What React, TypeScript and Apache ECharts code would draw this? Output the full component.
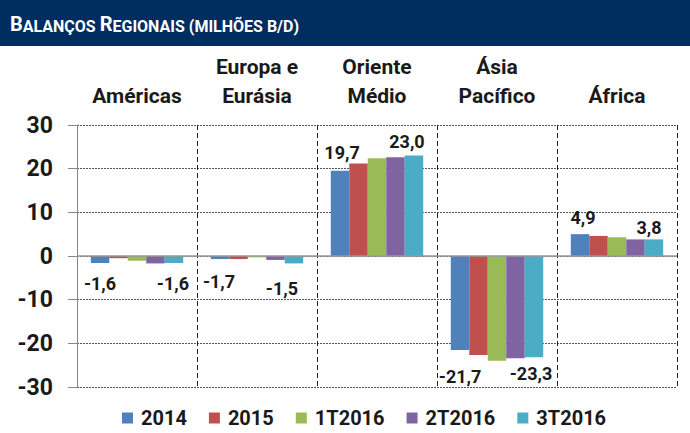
import { useEffect, useRef } from "react";
import * as echarts from "echarts";

const categories = ["Américas", "Europa e\nEurásia", "Oriente\nMédio", "Ásia\nPacífico", "África"];
const seriesNames = ["2014", "2015", "1T2016", "2T2016", "3T2016"];
const values2014 = [-1.6, -0.7, 19.5, -21.5, 5.0];
const values2015 = [-0.5, -0.7, 21.2, -22.7, 4.6];
const values1T2016 = [-1.1, -0.3, 22.4, -24.0, 4.3];
const values2T2016 = [-1.7, -0.9, 22.6, -23.4, 3.8];
const values3T2016 = [-1.6, -1.7, 23.0, -23.2, 3.8];
const labels2014 = ["-1,6", "-1,7", "19,7", "-21,7", "4,9"];
const labels3T2016 = ["-1,6", "-1,5", "23,0", "-23,3", "3,8"];
const yMin = -30;
const yMax = 30;
const yInterval = 10;
const titleText = "{b|B}{s|ALANÇOS }{b|R}{s|EGIONAIS (MILHÕES B/D)}";

const colors = ["#4F81BD", "#C0504D", "#9BBB59", "#8064A2", "#4BACC6"];
const FONT = "Roboto, 'Liberation Sans', sans-serif";

// label placement styling (distance from bar end, horizontal shift)
const firstPlacement = [
  { d: 12, dx: 0 },
  { d: 13, dx: -1 },
  { d: 9, dx: 2 },
  { d: 18, dx: 0 },
  { d: 8, dx: 3 },
];
const lastPlacement = [
  { d: 12, dx: -1 },
  { d: 16, dx: -12 },
  { d: 5, dx: -7 },
  { d: 7, dx: -3 },
  { d: 3, dx: -5 },
];

function buildData(values: number[], labels: string[] | null, placement: { d: number; dx: number }[] | null) {
  return values.map((v, i) => {
    if (!labels || !placement) return v;
    return {
      value: v,
      label: {
        show: true,
        formatter: labels[i],
        position: v >= 0 ? "top" : "bottom",
        distance: placement[i].d,
        offset: [placement[i].dx, 0],
        fontFamily: FONT,
        fontWeight: "bold",
        fontSize: 18,
        color: "#1a1a1a",
      },
    };
  });
}

export default function App() {
  const ref = useRef<HTMLDivElement>(null);
  useEffect(() => {
    document.body.style.margin = "0";
    if (!ref.current) return;
    const chart = echarts.init(ref.current, undefined, { renderer: "svg" });
    const allValues = [values2014, values2015, values1T2016, values2T2016, values3T2016];
    const series: any[] = allValues.map((vals, si) => ({
      name: seriesNames[si],
      type: "bar",
      barGap: "0%",
      barCategoryGap: "23%",
      itemStyle: { color: colors[si] },
      data:
        si === 0
          ? buildData(vals, labels2014, firstPlacement)
          : si === 4
          ? buildData(vals, labels3T2016, lastPlacement)
          : vals,
      ...(si === 0
        ? {
            markLine: {
              silent: true,
              symbol: "none",
              label: { show: false },
              lineStyle: { color: "#999", width: 1.5, type: "solid" },
              data: [{ yAxis: 0 }],
              z: 10,
            },
          }
        : {}),
    }));
    chart.setOption({
      animation: false,
      textStyle: { fontFamily: FONT },
      graphic: [
        {
          type: "rect",
          shape: { x: 0, y: 0, width: 690, height: 46 },
          style: { fill: "#002D5F" },
          silent: true,
          z: -1,
        },
        {
          type: "text",
          x: 10,
          y: 14,
          style: {
            text: titleText,
            verticalAlign: "top",
            rich: {
              b: { fill: "#ffffff", fontSize: 20, fontWeight: "bold", fontFamily: FONT, lineHeight: 20, verticalAlign: "bottom" },
              s: { fill: "#ffffff", fontSize: 16, fontWeight: "bold", fontFamily: FONT, lineHeight: 16, verticalAlign: "bottom" },
            },
          },
        },
      ],
      legend: {
        data: seriesNames,
        left: 122,
        top: 408,
        padding: 0,
        itemWidth: 11,
        itemHeight: 11,
        itemGap: 22,
        icon: "rect",
        textStyle: {
          fontFamily: FONT,
          fontWeight: "bold",
          fontSize: 20,
          color: "#1a1a1a",
          lineHeight: 20,
          padding: [0, 0, 0, 3],
        },
      },
      grid: { left: 77, right: 13, top: 125, bottom: 46, containLabel: false },
      xAxis: {
        type: "category",
        data: categories,
        position: "top",
        axisLine: { show: false },
        axisTick: { show: false },
        axisLabel: {
          interval: 0,
          margin: 15,
          fontFamily: FONT,
          fontWeight: "bold",
          fontSize: 21,
          lineHeight: 29,
          color: "#1a1a1a",
        },
        splitLine: {
          show: true,
          interval: 0,
          lineStyle: { color: "#222", width: 1, type: [5, 3] },
        },
      },
      yAxis: {
        type: "value",
        min: yMin,
        max: yMax,
        interval: yInterval,
        axisLine: { show: true, lineStyle: { color: "#888", width: 1 } },
        axisTick: { show: true, length: 9, lineStyle: { color: "#888" } },
        axisLabel: {
          margin: 24,
          fontFamily: FONT,
          fontWeight: "bold",
          fontSize: 23,
          color: "#1a1a1a",
        },
        splitLine: { show: true, lineStyle: { color: "#555", width: 1, type: [2, 1] } },
      },
      series,
    });
    return () => chart.dispose();
  }, []);
  return <div ref={ref} style={{ width: 690, height: 433 }} />;
}
